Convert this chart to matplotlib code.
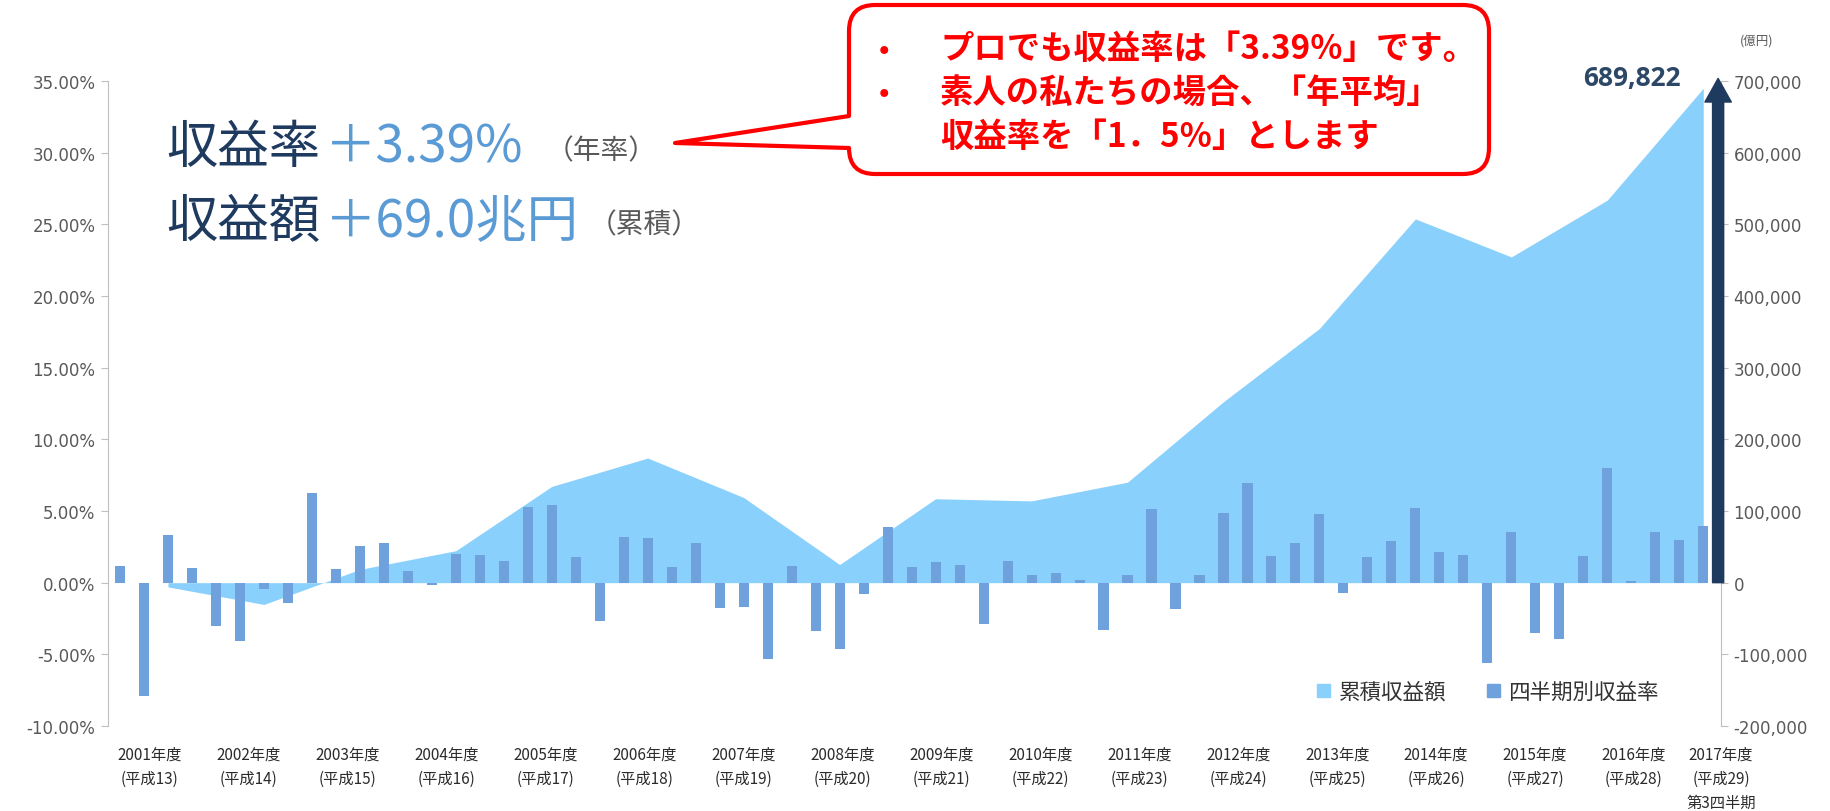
import matplotlib
matplotlib.use("Agg")
import matplotlib.pyplot as plt
from matplotlib.patches import Patch, PathPatch, FancyArrowPatch
from matplotlib.path import Path
import numpy as np

plt.rcParams['font.family'] = ['Noto Sans CJK JP', 'DejaVu Sans']

# ================== DATA ==================
fiscal_years = ["2001", "2002", "2003", "2004", "2005", "2006", "2007", "2008", "2009",
                "2010", "2011", "2012", "2013", "2014", "2015", "2016", "2017"]
heisei = ["13", "14", "15", "16", "17", "18", "19", "20", "21",
          "22", "23", "24", "25", "26", "27", "28", "29"]

# 四半期別収益率 (%), 2001 Q1 .. 2017 Q3
quarterly_return = [
    1.16, -7.90, 3.32, 1.00,     # 2001
    -3.03, -4.07, -0.47, -1.40,  # 2002
    6.28, 0.93, 2.56, 2.74,      # 2003
    0.81, -0.16, 1.97, 1.93,     # 2004
    1.48, 5.28, 5.42, 1.81,      # 2005
    -2.68, 3.21, 3.09, 1.09,     # 2006
    2.74, -1.74, -1.68, -5.35,   # 2007
    1.16, -3.37, -4.65, -0.82,   # 2008
    3.88, 1.09, 1.44, 1.23,      # 2009
    -2.91, 1.49, 0.56, 0.70,     # 2010
    0.20, -3.31, 0.56, 5.16,     # 2011
    -1.86, 0.51, 4.88, 6.93,     # 2012
    1.86, 2.74, 4.77, -0.75,     # 2013
    1.79, 2.88, 5.23, 2.14,      # 2014
    1.91, -5.58, 3.53, -3.54,    # 2015
    -3.91, 1.86, 8.02, 0.10,     # 2016
    3.53, 2.97, 3.95,            # 2017 (Q1-Q3)
]

# 累積収益額 (億円), one point per fiscal year
cumulative = [-5900, -30400, 18500, 44600, 134300, 173900, 118800, 25300, 117100,
              114100, 140200, 252500, 354700, 507600, 454500, 533800, 689822]

# ================== STYLE ==================
W, H = 1831, 812
area_color = "#8AD0FC"
bar_color = "#6FA2DC"
navy = "#1F3A5F"
grey_axis = "#BFBFBF"
grey_text = "#595959"
red = "#FF0000"

fig = plt.figure(figsize=(W / 100, H / 100), dpi=100)

ax = fig.add_axes([108 / W, 1 - 727 / H, (1721 - 108) / W, (727 - 82) / H])
ax2 = ax.twinx()
ax.set_zorder(ax2.get_zorder() + 1)
ax.patch.set_visible(False)

n_q = len(quarterly_return)
xq = np.arange(n_q)

# area on the right (億円) axis, vertices at the 3rd quarter bar of each year
area_x = np.arange(len(cumulative)) * 4 + 2
ax2.fill_between(area_x, 0, cumulative, color=area_color, linewidth=0, zorder=1)

# bars on the left (%) axis
ax.bar(xq, quarterly_return, width=0.42, color=bar_color, zorder=3)

ax.set_xlim(-0.5, n_q - 0.5)
ax.set_ylim(-10, 35)
ax2.set_ylim(-200000, 700000)

left_ticks = np.arange(-10, 36, 5)
ax.set_yticks(left_ticks, labels=[f"{t:.2f}%" for t in left_ticks],
              fontfamily="DejaVu Sans")
right_ticks = np.arange(-200000, 700001, 100000)
ax2.set_yticks(right_ticks, labels=[f"{t:,}" for t in right_ticks],
               fontfamily="DejaVu Sans")

for a in (ax, ax2):
    for s in ("top", "bottom"):
        a.spines[s].set_visible(False)
ax.spines["right"].set_visible(False)
ax2.spines["left"].set_visible(False)
ax.spines["left"].set_color(grey_axis)
ax2.spines["right"].set_color(grey_axis)
ax.tick_params(axis="y", length=5, color=grey_axis, labelcolor=grey_text,
               labelsize=12, pad=4)
ax2.tick_params(axis="y", length=5, color=grey_axis, labelcolor=grey_text,
                labelsize=12, pad=4)

# year labels under the chart
label_pos = list(1.25 + 4.124 * np.arange(len(fiscal_years) - 1)) + [66.74]
year_labels = [f"{y}年度\n(平成{h})" for y, h in zip(fiscal_years, heisei)]
year_labels[-1] += "\n第3四半期"
ax.set_xticks(label_pos, labels=year_labels)
ax.tick_params(axis="x", length=0, pad=14, labelsize=11, labelcolor="#2B2B2B")
for lbl in ax.get_xticklabels():
    lbl.set_linespacing(1.55)
    lbl.set_verticalalignment("top")

# arrow up to the final cumulative value
arrow = FancyArrowPatch((66.62, 0), (66.62, cumulative[-1] * 1.02),
                        arrowstyle="simple,tail_width=0.4,head_width=0.95,head_length=0.85",
                        mutation_scale=20, color=navy, shrinkA=0, shrinkB=0,
                        clip_on=False, zorder=6)
ax2.add_patch(arrow)
ax2.annotate(f"{cumulative[-1]:,}", xy=(66.62, cumulative[-1]),
             xytext=(-86, 11), textcoords="offset pixels",
             ha="center", va="center", fontsize=19, fontweight="bold",
             color="#2D4766", fontfamily="Open Sans", annotation_clip=False)

# legend
handles = [Patch(color=area_color, label="累積収益額"),
           Patch(color=bar_color, label="四半期別収益率")]
ax.legend(handles=handles, loc="center left", ncol=2, frameon=False,
          bbox_to_anchor=(1317 / W, 1 - 693 / H), bbox_transform=fig.transFigure,
          fontsize=15.5, handlelength=0.6, handleheight=0.6, handletextpad=0.4,
          columnspacing=1.9, borderpad=0, borderaxespad=0, labelcolor="#333333")

# ================== OVERLAY (pixel coords, y down) ==================
ov = fig.add_axes([0, 0, 1, 1])
ov.set_xlim(0, W)
ov.set_ylim(H, 0)
ov.axis("off")

ov.text(1757, 41, "(億円)", ha="center", va="center", fontsize=9, color=grey_text)

# headline figures
ov.text(166, 148, "収益率", ha="left", va="center", fontsize=37, color=navy)
ov.text(325, 148, "＋3.39%", ha="left", va="center", fontsize=37, color="#5B9BD5")
ov.text(546, 151, "（年率）", ha="left", va="center", fontsize=20, color=grey_text)
ov.text(166, 222, "収益額", ha="left", va="center", fontsize=37, color=navy)
ov.text(325, 222, "＋69.0兆円", ha="left", va="center", fontsize=37, color="#5B9BD5")
ov.text(589, 225, "（累積）", ha="left", va="center", fontsize=20, color=grey_text)

# callout box with pointer
L, R, T, B, r = 849, 1489, 6, 175, 26
tip = (675, 144)
y1, y2 = 117, 149
verts = [(L, y2), (L, B - r), (L, B), (L + r, B), (R - r, B), (R, B), (R, B - r),
         (R, T + r), (R, T), (R - r, T), (L + r, T), (L, T), (L, T + r),
         (L, y1), tip, (L, y2)]
codes = [Path.MOVETO, Path.LINETO, Path.CURVE3, Path.CURVE3, Path.LINETO,
         Path.CURVE3, Path.CURVE3, Path.LINETO, Path.CURVE3, Path.CURVE3,
         Path.LINETO, Path.CURVE3, Path.CURVE3, Path.LINETO, Path.LINETO,
         Path.CLOSEPOLY]
ov.add_patch(PathPatch(Path(verts, codes), facecolor="white", edgecolor=red,
                       linewidth=3, joinstyle="round"))

callout_lines = [(50, "•", "プロでも収益率は「3.39%」です。"),
                 (93, "•", "素人の私たちの場合、「年平均」"),
                 (137, "", "収益率を「1．5%」とします")]
for y, bullet, txt in callout_lines:
    if bullet:
        ov.text(884, y, bullet, ha="center", va="center", fontsize=20,
                fontweight="bold", color=red)
    ov.text(940, y, txt, ha="left", va="center", fontsize=24,
            fontweight="bold", color=red)

fig.savefig("out.png", dpi=100)
